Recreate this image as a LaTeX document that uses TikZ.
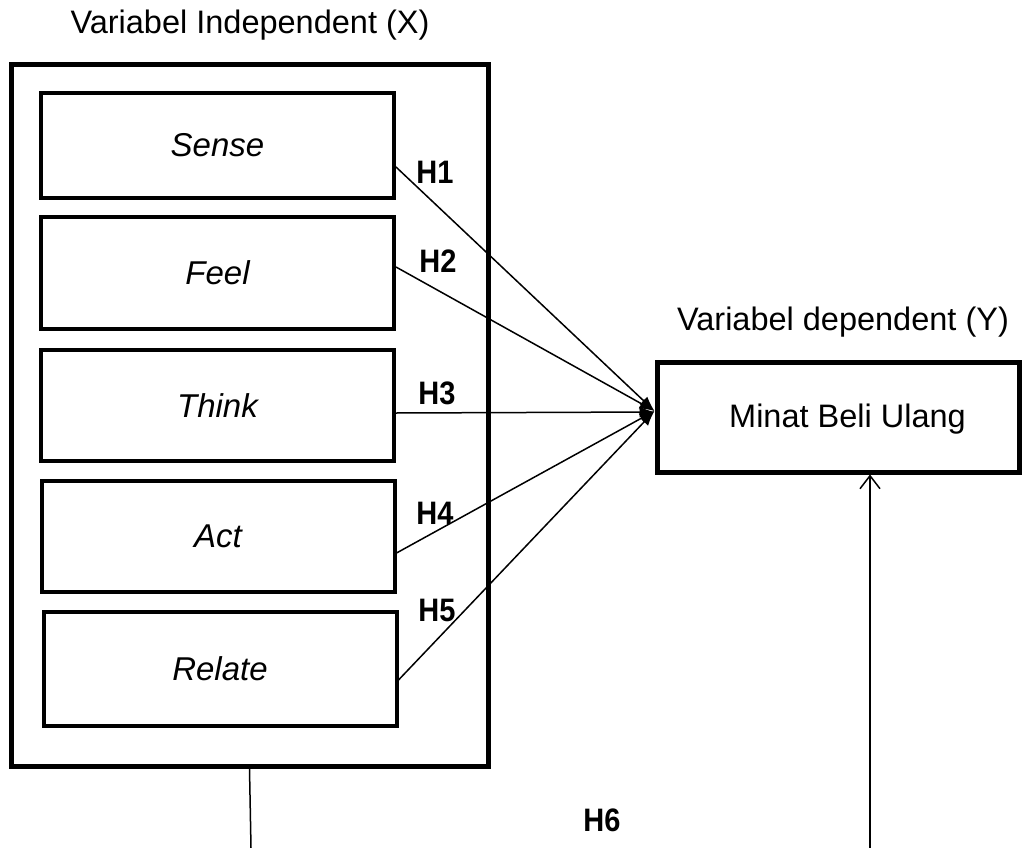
\documentclass[tikz,border=0pt]{standalone}
\usepackage{fontspec}
\setmainfont{Liberation Sans}
\usetikzlibrary{arrows.meta}
\begin{document}
\begin{tikzpicture}[x=1pt,y=1pt,
  txt/.style={font=\fontsize{32.5}{38}\selectfont, inner sep=0pt},
  hlab/.style={font=\fontsize{29}{34}\selectfont\bfseries, inner sep=0pt},
  inbox/.style={draw, line width=4pt, rectangle, minimum width=353pt, inner sep=0pt,
                font=\fontsize{33}{38}\selectfont\itshape},
  bigbox/.style={draw, line width=5pt, rectangle, inner sep=0pt},
  hyp/.style={line width=1.5pt, -{Latex[length=15pt,width=11pt]}},
  link/.style={line width=1.5pt}
]
\useasboundingbox (0,0) rectangle (1030,-848);
% outer frame
\node[bigbox, minimum width=477pt, minimum height=701pt] (outer) at (249.5,-415.5) {};
\node[txt] (xtitle) at (250,-25) {Variabel Independent (X)};
% inner boxes
\node[inbox, minimum height=105pt] (sense)  at (217.5,-145.5) {Sense};
\node[inbox, minimum height=112pt] (feel)   at (217.5,-273)   {Feel};
\node[inbox, minimum height=111pt] (think)  at (217.5,-405.5) {Think};
\node[inbox, minimum height=111pt] (act)    at (218,-536.5)   {Act};
\node[inbox, minimum height=114pt] (relate) at (220,-669)     {Relate};
% dependent
\node[bigbox, minimum width=362pt, minimum height=110pt] (minat) at (838,-417) {};
\node[txt] (minattext) at (847.5,-419) {Minat Beli Ulang};
\node[txt] (ytitle) at (843,-322) {Variabel dependent (Y)};
\coordinate (tip) at ([yshift=6pt]minat.west);
% hypotheses arrows
\draw[hyp] ([yshift=-21.5pt]sense.east) -- (tip);
\draw[hyp] ([yshift=6pt]feel.east) -- (tip);
\draw[hyp] ([yshift=-7.5pt]think.east) -- ([yshift=-1pt]tip);
\draw[hyp] ([yshift=-16.5pt]act.east) -- (tip);
\draw[hyp] ([yshift=-11pt]relate.east) -- (tip);
% labels
\node[hlab] (h1) at (435,-172) {\scalebox{1}[1.12]{H1}};
\node[hlab] (h2) at (438,-261) {\scalebox{1}[1.12]{H2}};
\node[hlab] (h3) at (437,-393) {\scalebox{1}[1.12]{H3}};
\node[hlab] (h4) at (435,-513) {\scalebox{1}[1.12]{H4}};
\node[hlab] (h5) at (437,-610) {\scalebox{1}[1.12]{H5}};
\node[hlab] (h6) at (602,-820) {\scalebox{1}[1.12]{H6}};
% bottom link
\coordinate (bl) at (251,-848);
\coordinate (br) at (870,-848);
\draw[link] (outer.south) -- (bl);
\draw[link, -{Straight Barb[length=13pt,width=20pt]}] (br) -- ([xshift=32pt]minat.south);
\end{tikzpicture}
\end{document}
